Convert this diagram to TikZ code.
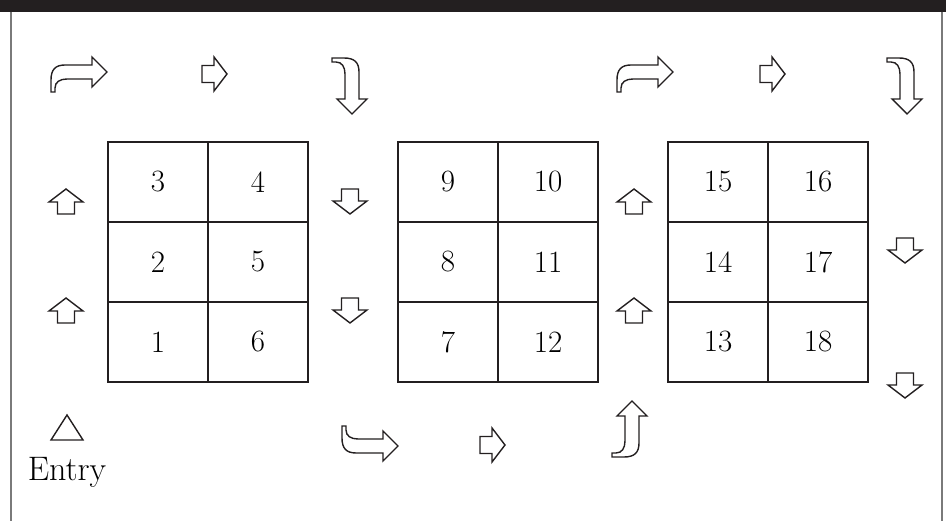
\documentclass[tikz,border=0pt]{standalone}
\usetikzlibrary{positioning}
\definecolor{inkblk}{HTML}{231F20}
\definecolor{rulegray}{HTML}{7A7A7A}
\tikzset{
  cell/.style={draw=inkblk, line width=1.6pt, minimum width=100pt, minimum height=80pt, inner sep=0pt, font=\fontsize{31}{31}\selectfont},
  arrline/.style={draw=inkblk, fill=white, line width=1.4pt, line join=miter},
  blkarr/.pic={\path[arrline] (0,-8.5) -- (12,-8.5) -- (12,-17) -- (25,0) -- (12,17) -- (12,8.5) -- (0,8.5) -- cycle;},
  bendarr/.pic={\path[arrline] (0,0) -- (0,-12) .. controls (0,-22) and (4,-27) .. (14,-27) -- (41,-27) -- (41,-35) -- (56,-20) -- (41,-5) -- (41,-13) -- (16,-13) .. controls (9,-13) and (4,-10) .. (4,-4) -- (4,0) -- cycle;},
}

\begin{document}
\begin{tikzpicture}[x=1pt,y=-1pt]
\useasboundingbox (0,0) rectangle (946,521);
% ================= frame =================
\fill[inkblk] (0,0) rectangle (946,12);
\draw[rulegray, line width=1.5pt] (11,12) -- (11,521);
\draw[rulegray, line width=1.5pt] (942,12) -- (942,521);
% ================= bays =================
\foreach \gx/\b in {108/0,398/6,668/12}{
  \foreach \r in {0,1,2}{
    \pgfmathtruncatemacro\nl{\b+3-\r}
    \pgfmathtruncatemacro\nr{\b+4+\r}
    \node[cell] (c\nl) at (\gx+50,182+80*\r) {\nl};
    \node[cell] (c\nr) at (\gx+150,182+80*\r) {\nr};}}
% ================= top row =================
\pic at (51,92) {bendarr}; \pic at (617,92) {bendarr};
\pic at (202,74) {blkarr}; \pic at (760,74) {blkarr};
\pic[rotate=-90] at (332,58) {bendarr}; \pic[rotate=-90] at (887,58) {bendarr};
% ================= side arrows =================
\foreach \y in {214,323}{\pic[rotate=90] at (66,\y) {blkarr}; \pic[rotate=90] at (634,\y) {blkarr};}
\foreach \y in {189,298}{\pic[rotate=-90] at (350,\y) {blkarr};}
\foreach \y in {238,373}{\pic[rotate=-90] at (905,\y) {blkarr};}
% ================= bottom row =================
\pic[yscale=-1] at (342,426) {bendarr};
\pic at (480,445) {blkarr};
\pic[yscale=-1, rotate=-90] at (612,457) {bendarr};
% ================= entry =================
\draw[arrline] (51,440) -- (67,415) -- (83,440) -- cycle;
\node[font=\fontsize{34}{34}\selectfont, anchor=base, inner sep=0pt] (entry) at (67,480) {Entry};
\end{tikzpicture}
\end{document}
